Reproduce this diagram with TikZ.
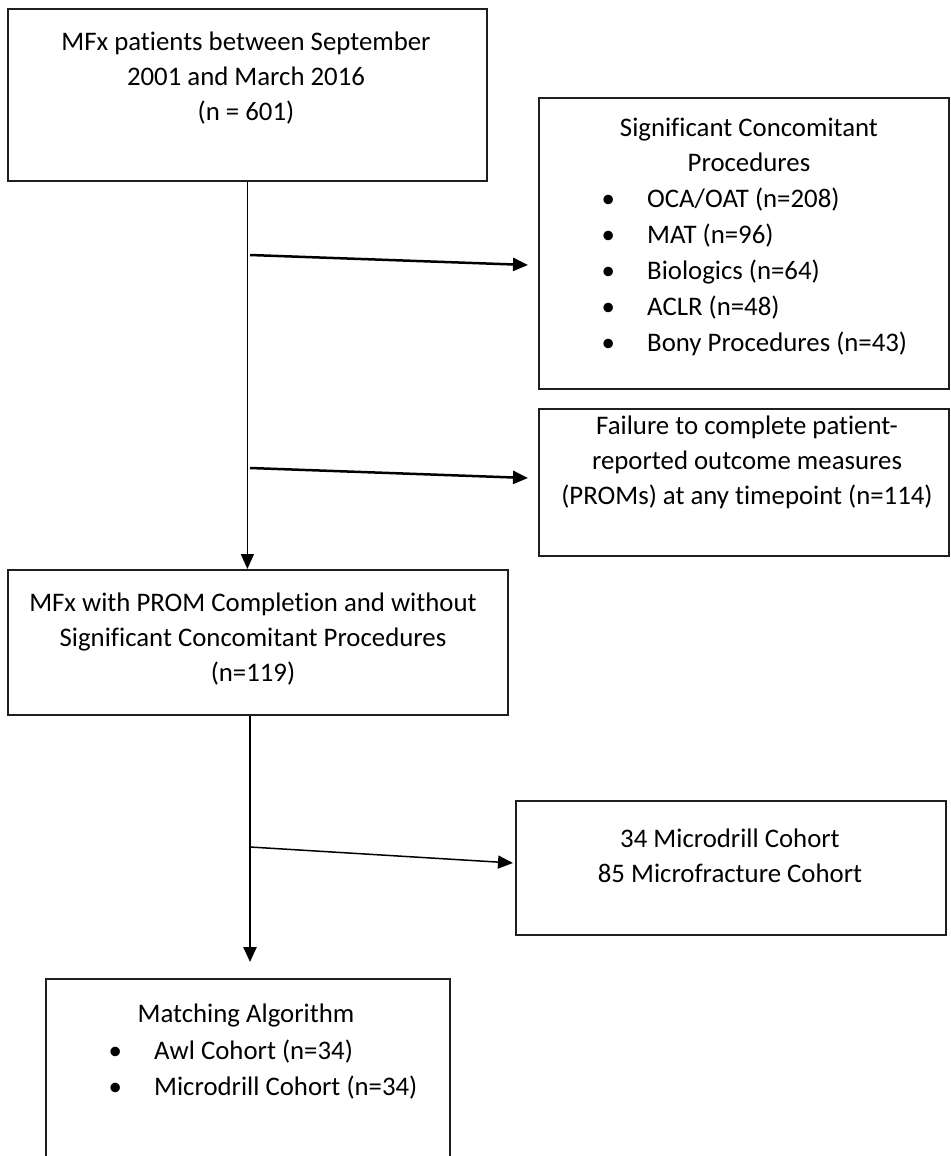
\documentclass[tikz,border=0pt]{standalone}
\usepackage{fontspec}
\setmainfont{Carlito}[Ligatures={NoCommon}]
\usetikzlibrary{arrows.meta}
\begin{document}
\begin{tikzpicture}[x=1pt,y=-1pt,
  box/.style={draw=black!88,line width=1.8pt,rectangle,inner sep=0pt,anchor=north west},
  txt/.style={align=center,font=\fontsize{26.8}{35}\selectfont,inner sep=0pt,text=black},
  lst/.style={align=left,font=\fontsize{26.8}{36}\selectfont,inner sep=0pt,anchor=north west,text=black},
  tip/.style={-{Triangle[length=15pt,width=13pt]}},
  thinarr/.style={tip,line width=1.5pt},
  thickarr/.style={tip,line width=2.5pt}]
\useasboundingbox (0,0) rectangle (950,1156);
\clip (0,0) rectangle (950,1156);
\fill[white] (0,0) rectangle (950,1156);

% boxes
\node[box,minimum width=479pt,minimum height=172pt] (b1) at (7,8) {};
\node[box,minimum width=410pt,minimum height=291pt] (b2) at (538,97) {};
\node[box,minimum width=410pt,minimum height=147pt] (b3) at (538,408) {};
\node[box,minimum width=500pt,minimum height=145pt] (b4) at (7,569) {};
\node[box,minimum width=430pt,minimum height=134pt] (b6) at (515,800) {};
\node[box,minimum width=404pt,minimum height=220pt] (b5) at (45,978) {};

% texts
\node[txt] (t1) at (246,78) {MFx patients between September\\2001 and March 2016\\(n = 601)};
\node[txt] (t2) at (749,145) {Significant Concomitant\\Procedures};
\node[lst] (l2) at (608,188) {\makebox[0pt][c]{•}\hspace{39pt}OCA/OAT (n=208)\\
\makebox[0pt][c]{•}\hspace{39pt}MAT (n=96)\\
\makebox[0pt][c]{•}\hspace{39pt}Biologics (n=64)\\
\makebox[0pt][c]{•}\hspace{39pt}ACLR (n=48)\\
\makebox[0pt][c]{•}\hspace{39pt}Bony Procedures (n=43)};
\node[txt] (t3) at (747,462) {Failure to complete patient-\\reported outcome measures\\(PROMs) at any timepoint (n=114)};
\node[txt] (t4) at (253,639) {MFx with PROM Completion and without\\Significant Concomitant Procedures\\(n=119)};
\node[txt] (t6) at (730,856) {34 Microdrill Cohort\\85 Microfracture Cohort};
\node[txt] (t5) at (246,1015) {Matching Algorithm};
\node[lst] (l5) at (115,1040) {\makebox[0pt][c]{•}\hspace{39pt}Awl Cohort (n=34)\\
\makebox[0pt][c]{•}\hspace{39pt}Microdrill Cohort (n=34)};

% connectors
\coordinate (j1) at (250,255);
\coordinate (e1) at (528,265);
\coordinate (j2) at (250,468);
\coordinate (e2) at (528,478);
\coordinate (k) at (250,0);
\coordinate (j3) at (250,847);
\coordinate (e3) at (513,863);
\coordinate (e4) at (250,962);

\draw[thinarr] (b1.south) -- (b1.south |- b4.north);
\draw[thickarr] (j1) -- (e1);
\draw[thickarr] (j2) -- (e2);
\draw[thickarr] (b4.south -| k) -- (e4);
\draw[thinarr] (j3) -- (e3);
\end{tikzpicture}
\end{document}
